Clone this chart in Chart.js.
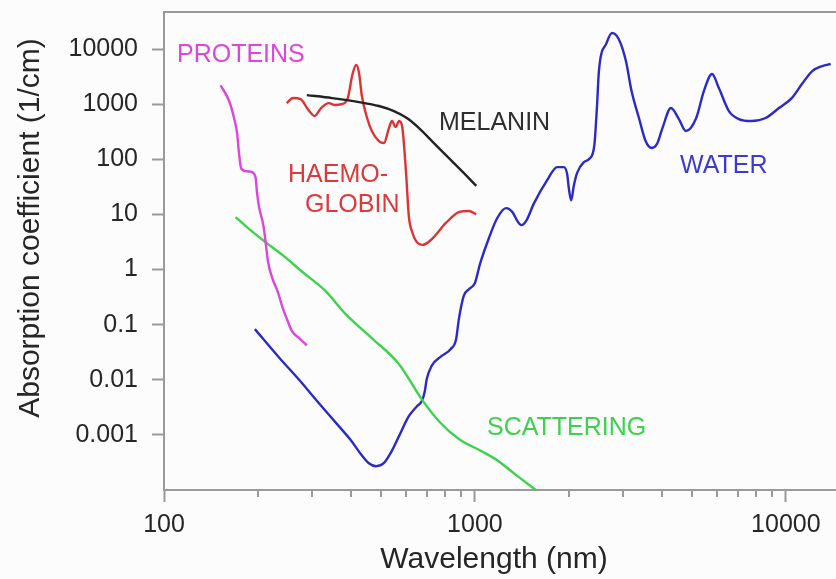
<!DOCTYPE html>
<html>
<head>
<meta charset="utf-8">
<script src="https://cdn.jsdelivr.net/npm/chart.js"></script>
<style>
  html, body { margin: 0; padding: 0; background: #fcfcfc; }
  #wrap { width: 836px; height: 579px; position: relative; }
</style>
</head>
<body>
<div id="wrap"><canvas id="chart"></canvas></div>
<script>
// Data (wavelength in nm, absorption coefficient in 1/cm)
const proteinWl = [152, 162, 168, 172, 174, 177, 183, 191, 197, 199, 202, 209, 212, 216, 223, 232, 241, 250, 258, 272, 288];
const proteinAbs = [2200, 1140, 560, 286, 141, 69, 61, 59, 47, 26, 14, 6.1, 3.3, 1.4, 0.7, 0.4, 0.2, 0.116, 0.076, 0.057, 0.042];

const melaninWl = [288, 347, 424, 491, 549, 604, 661, 738, 825, 922, 1010];
const melaninAbs = [1460, 1290, 1090, 925, 750, 560, 368, 197, 105, 56, 33];

const haemoWl = [248, 260, 275, 290, 305, 320, 339, 355, 372, 390, 404, 415, 424, 433, 450, 466, 491, 510, 529, 541, 556, 570, 583, 600, 613, 630, 647, 680, 720, 807, 888, 957, 1010];
const haemoAbs = [1045, 1290, 1240, 815, 608, 850, 1045, 965, 1000, 1290, 3520, 5130, 3660, 1403, 560, 325, 214, 197, 368, 494, 384, 494, 400, 61, 9.3, 4.6, 3.28, 2.8, 3.4, 7, 11, 11.5, 10];

const waterWl = [196, 234, 272, 315, 365, 399, 430, 456, 481, 509, 536, 570, 613, 651, 675, 690, 700, 725, 780, 835, 870,
  888, 920, 957, 1000, 1040, 1109, 1180, 1260, 1320, 1370, 1410, 1460, 1550, 1700, 1840, 1930, 1980, 2006, 2040, 2080,
  2130, 2240, 2330, 2420, 2470, 2505, 2650, 2760, 2900, 3060, 3190, 3370, 3540, 3700, 3850, 4010, 4270, 4530, 4770, 5150,
  5450, 5790, 6090, 6560, 7060, 7770, 8610, 9500, 10450, 11270, 12160, 13100, 13940];
const waterAbs = [0.083, 0.0257, 0.01, 0.00376, 0.00144, 0.0008, 0.000447, 0.000306, 0.00027, 0.000306, 0.00047, 0.00095, 0.00218, 0.0033, 0.0041, 0.0062, 0.0103, 0.0177, 0.0268, 0.0359, 0.0545,
  0.126, 0.33, 0.44, 0.57, 1.3, 3.7, 8.6, 13, 11, 7.55, 6.4, 7.55, 16, 40, 72, 72, 54, 29, 18, 33,
  56, 89, 101, 174, 925, 3990, 12800, 19500, 15200, 6050, 1730, 560, 214, 160, 189, 368, 850, 537, 325, 560,
  1730, 3520, 1960, 750, 537, 494, 560, 850, 1290, 2320, 3990, 4910, 5350];

const scatterWl = [170, 188, 210, 243, 277, 331, 384, 466, 570, 675, 766, 888, 1055, 1194, 1336, 1570];
const scatterAbs = [8.9, 5.4, 3.28, 1.75, 0.93, 0.405, 0.155, 0.057, 0.0192, 0.0044, 0.00177, 0.00084, 0.0005, 0.00033, 0.0002, 0.0001];

// Axis ticks
const xMajorTicks = [100, 1000, 10000];
const xMinorTicks = [200, 300, 400, 500, 600, 700, 800, 900, 2000, 3000, 4000, 5000, 6000, 7000, 8000, 9000];
const yTicks = [0.001, 0.01, 0.1, 1, 10, 100, 1000, 10000];

const FONT = "'Liberation Sans', Arial, sans-serif";
const AXIS_GRAY = '#9a9a9a';

const curveLabels = [
  { text: 'PROTEINS', x: 177, y: 62, color: '#dd45dd' },
  { text: 'MELANIN', x: 439, y: 130, color: '#2e2e2e' },
  { text: 'HAEMO-', x: 288, y: 182, color: '#dd3b3b' },
  { text: 'GLOBIN', x: 305, y: 212, color: '#dd3b3b' },
  { text: 'WATER', x: 680, y: 173, color: '#3b3bd2' },
  { text: 'SCATTERING', x: 487, y: 435, color: '#3cd24c' }
];

function toPoints(xs, ys) {
  return xs.map((x, i) => ({ x: x, y: ys[i] }));
}

function series(xs, ys, color) {
  return {
    data: toPoints(xs, ys),
    borderColor: color,
    borderWidth: 2.4,
    pointRadius: 0,
    fill: false,
    cubicInterpolationMode: 'monotone'
  };
}

// Text, frame and minor ticks drawn on top
const overlayPlugin = {
  id: 'overlay',
  afterDraw(chart) {
    const ctx = chart.ctx;
    const area = chart.chartArea;
    const xs = chart.scales.x;

    ctx.save();
    ctx.strokeStyle = AXIS_GRAY;
    ctx.lineWidth = 2;
    ctx.beginPath();
    ctx.moveTo(area.left, area.top);
    ctx.lineTo(area.right, area.top);
    xMinorTicks.forEach(v => {
      const px = Math.round(xs.getPixelForValue(v));
      ctx.moveTo(px, area.bottom);
      ctx.lineTo(px, area.bottom + 7);
    });
    ctx.stroke();

    ctx.font = '25px ' + FONT;
    ctx.textAlign = 'left';
    ctx.textBaseline = 'alphabetic';
    curveLabels.forEach(l => {
      ctx.fillStyle = l.color;
      ctx.fillText(l.text, l.x, l.y);
    });

    ctx.fillStyle = '#262626';
    ctx.font = '30px ' + FONT;
    ctx.textAlign = 'center';
    ctx.fillText('Wavelength (nm)', 494, 568);

    ctx.translate(39, 228);
    ctx.rotate(-Math.PI / 2);
    ctx.fillText('Absorption coefficient (1/cm)', 0, 0);
    ctx.restore();
  }
};

new Chart(document.getElementById('chart'), {
  type: 'line',
  data: {
    datasets: [
      series(proteinWl, proteinAbs, '#dd45dd'),
      series(melaninWl, melaninAbs, '#222222'),
      series(haemoWl, haemoAbs, '#dd3333'),
      series(scatterWl, scatterAbs, '#3cd24c'),
      series(waterWl, waterAbs, '#2a2ac6')
    ]
  },
  options: {
    responsive: true,
    maintainAspectRatio: false,
    animation: false,
    layout: { autoPadding: false, padding: { top: 12, right: 0, left: 0, bottom: 0 } },
    plugins: {
      legend: { display: false },
      tooltip: { enabled: false }
    },
    scales: {
      x: {
        type: 'logarithmic',
        min: 100,
        max: 14500,
        afterBuildTicks: s => { s.ticks = xMajorTicks.map(v => ({ value: v })); },
        afterFit: s => { s.height = 89; s.paddingLeft = 0; s.paddingRight = 0; },
        border: { color: AXIS_GRAY, width: 2 },
        grid: { drawOnChartArea: false, tickLength: 12, tickWidth: 2, tickColor: AXIS_GRAY },
        ticks: {
          autoSkip: false,
          maxRotation: 0,
          padding: 8,
          color: '#262626',
          font: { size: 25, family: FONT },
          callback: v => String(v)
        }
      },
      y: {
        type: 'logarithmic',
        min: 0.0001,
        max: 47000,
        afterBuildTicks: s => { s.ticks = yTicks.map(v => ({ value: v })); },
        afterFit: s => { s.width = 164; s.paddingTop = 0; s.paddingBottom = 0; },
        border: { color: AXIS_GRAY, width: 2 },
        grid: { drawOnChartArea: false, tickLength: 12, tickWidth: 2, tickColor: AXIS_GRAY },
        ticks: {
          padding: 14,
          color: '#262626',
          font: { size: 25, family: FONT },
          callback: v => String(v)
        }
      }
    }
  },
  plugins: [overlayPlugin]
});
</script>
</body>
</html>
